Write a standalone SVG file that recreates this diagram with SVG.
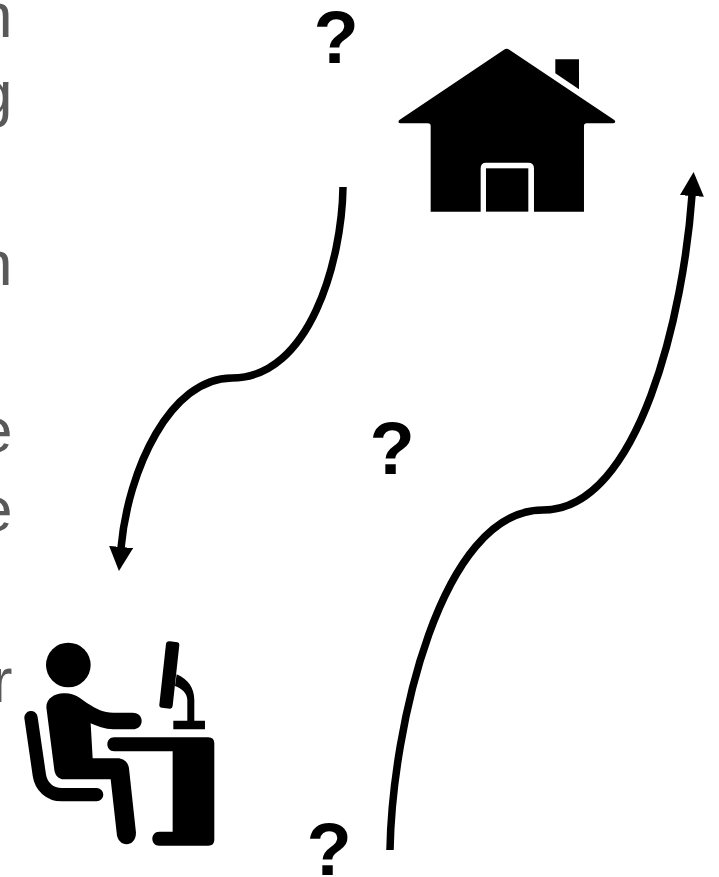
<svg xmlns="http://www.w3.org/2000/svg" width="719" height="877" viewBox="0 0 719 877">
<style>
.t{font-family:"Liberation Sans",Arial,sans-serif;font-size:63px;fill:#595959;text-anchor:end}
.q{font-family:"Liberation Sans",Arial,sans-serif;font-size:74px;font-weight:bold;fill:#000;text-anchor:middle}
.c{fill:none;stroke:#000;stroke-width:7.5}
</style>
<defs>
<marker id="a" markerUnits="userSpaceOnUse" markerWidth="26" markerHeight="26" refX="1" refY="12" orient="auto"><path d="M0 0L24 12L0 24Z"/></marker>
</defs>
<rect width="719" height="877" fill="#fff"/>
<g id="left-text">
<text class="t" x="12.5" y="37">n</text>
<text class="t" x="12.5" y="115">g</text>
<text class="t" x="12.5" y="285">n</text>
<text class="t" x="12.5" y="452">e</text>
<text class="t" x="12.5" y="531">e</text>
<text class="t" x="12.5" y="702">r</text>
</g>
<g id="labels">
<text class="q" x="336" y="63">?</text>
<text class="q" x="392" y="474">?</text>
<text class="q" x="329" y="875">?</text>
</g>
<g id="connectors">
<path class="c" marker-end="url(#a)" d="M343 187C342 260 310 378 232 378C170 378 128 470 121 548"/>
<path class="c" marker-end="url(#a)" d="M390 850C392 730 440 510 543 510C640 510 684 310 692 195"/>
</g>
<g id="house" transform="translate(380 30) scale(.3333)">
<path d="M372 59Q380 54 388 59L703 270Q710 278 700 280H620Q612 280 612 288V545H462V415Q462 398 445 398H318Q302 398 302 415V545H152V288Q152 280 144 280H60Q52 278 58 270Z"/>
<rect x="318" y="415" width="127" height="130"/>
<path d="M526 88H597V178L526 130Z"/>
</g>
<g id="person" transform="translate(0 620) scale(.3333)">
<circle cx="205" cy="135" r="67"/>
<path d="M139 262C139 235 165 220 190 220C225 218 240 235 262 250C290 268 310 278 340 278H398C434 278 434 328 398 328H340C315 328 290 318 272 310L278 415H352C372 415 385 428 387 445L408 638C408 684 352 684 350 638L332 478H192C175 478 165 465 163 450Z"/>
<path d="M93 293L118 465C123 500 150 524 185 524H290" fill="none" stroke="#000" stroke-width="40" stroke-linecap="round"/>
<path d="M343 352H625Q643 352 643 370V660Q643 677 625 677H478C450 677 450 635 478 635H518V394H343C315 394 315 352 343 352Z"/>
<path d="M510 64L532 67Q539 68 538 75L518 258Q517 266 510 266L486 263Q477 262 478 254L498 72Q499 63 510 64Z"/>
<path d="M530 163C565 178 583 205 583 240V302H615V328H520V302H562V240C562 220 545 205 525 198Z"/>
</g>
</svg>
